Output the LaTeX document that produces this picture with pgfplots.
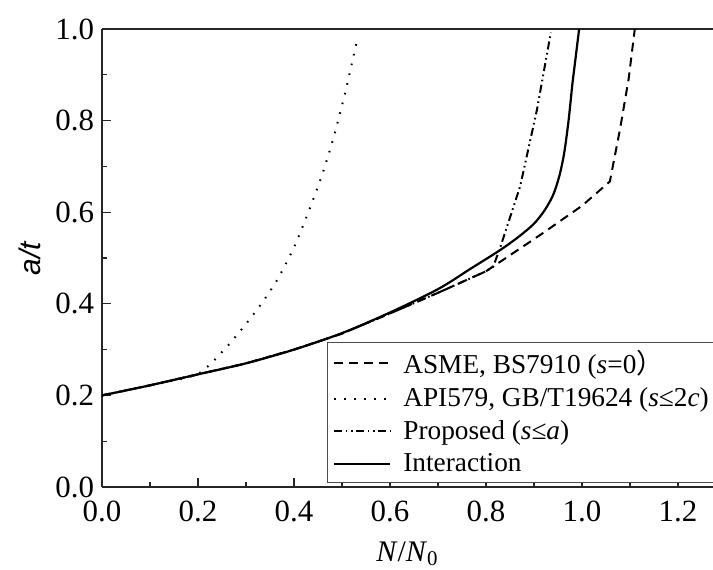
\documentclass[border=0pt]{standalone}
\usepackage{fontspec}
\setmainfont{Liberation Serif}
\setsansfont{Liberation Sans}
\newfontfamily\cjk{Noto Sans CJK SC}
\usepackage{pgfplots}
\pgfplotsset{compat=1.18}

\begin{document}
\begin{tikzpicture}
  \begin{axis}[
    width=305.5bp, height=229bp, scale only axis,
    xmin=0, xmax=1.2729, ymin=0, ymax=1,
    axis x line*=box, axis y line*=left,
    xtick pos=left, ytick pos=left,
    axis line style={line width=0.75bp, black!85},
    xtick={0,0.2,...,1.2}, ytick={0,0.2,...,1.0},
    minor tick num=1,
    tick align=inside,
    major tick length=4.5bp, minor tick length=2.5bp,
    tick style={line width=0.6bp, black!85},
    /pgf/number format/.cd, fixed, fixed zerofill, precision=1, assume math mode=true,
    /pgfplots/.cd,
    tick label style={font=\fontsize{15.5}{17}\selectfont},
    xticklabel style={yshift=-3.5bp},
    yticklabel style={xshift=-0.5bp},
    xlabel={\textit{N}/\textit{N}\textsubscript{0}},
    label style={font=\fontsize{15}{17}\selectfont},
    xlabel style={at={([yshift=-33.5bp]axis description cs:0.5,0)}, anchor=center},
    legend cell align=left,
    legend image code/.code={\draw[#1] (0bp,0bp) -- (28bp,0bp);},
    legend style={at={(axis description cs:0.3677,0.317)}, anchor=north west,
      draw=black!70, line width=0.5bp,
      font=\fontsize{13.7}{16}\selectfont,
      inner xsep=3bp, inner ysep=2bp,
      row sep=1.5bp, column sep=4bp},
  ]
    % ASME, BS7910
    \addplot[black, line width=1bp, dash pattern=on 4.5bp off 3bp] coordinates {
      (0,0.200) (0.1,0.222) (0.2,0.246) (0.3,0.270) (0.4,0.300) (0.5,0.335)
      (0.6,0.379) (0.7,0.424) (0.8,0.471) (0.9125,0.550) (1.0,0.614)
      (1.058,0.667) (1.079,0.780) (1.097,0.890) (1.110,1.0)
    };
    \addlegendentry{ASME, BS7910 (\textit{s}=0{\cjk ）}}
    % API579, GB/T19624
    \addplot[black, line width=1bp, dash pattern=on 0.8bp off 4.2bp, smooth, tension=0.4] coordinates {
      (0,0.200) (0.1,0.222) (0.2,0.247) (0.260,0.306) (0.315,0.376) (0.361,0.445)
      (0.399,0.521) (0.431,0.603) (0.459,0.683) (0.483,0.765) (0.508,0.867) (0.531,0.974)
    };
    \addlegendentry{API579, GB/T19624 (\textit{s}≤2\textit{c})}
    % Proposed
    \addplot[black, line width=1bp, dash pattern=on 4bp off 1.8bp on 0.8bp off 1.8bp on 0.8bp off 1.8bp] coordinates {
      (0,0.200) (0.1,0.222) (0.2,0.246) (0.3,0.270) (0.4,0.300) (0.5,0.335)
      (0.6,0.379) (0.7,0.424) (0.8,0.471) (0.815,0.481) (0.829,0.521)
      (0.871,0.656) (0.906,0.823) (0.935,0.992)
    };
    \addlegendentry{Proposed (\textit{s}≤\textit{a})}
    % Interaction
    \addplot[black, line width=1.1bp, smooth, tension=0.5] coordinates {
      (0,0.200) (0.1,0.222) (0.2,0.246) (0.3,0.270) (0.4,0.300) (0.5,0.336)
      (0.6,0.381) (0.7,0.432) (0.767,0.476) (0.829,0.517) (0.870,0.548) (0.900,0.575)
      (0.922,0.604) (0.940,0.638) (0.953,0.680) (0.963,0.730) (0.972,0.800)
      (0.980,0.880) (0.987,0.940) (0.994,1.0)
    };
    \addlegendentry{Interaction}
  \end{axis}
  % y axis label, set by hand so that it reads upwards
  \node[rotate=89.9, anchor=center, font=\fontsize{15}{17}\selectfont]
    at ([xshift=-36bp]current axis.west) {\textsf{\textit{a/t}}};
  \pgfresetboundingbox
  \path[use as bounding box] ([xshift=-51bp,yshift=-41.5bp]current axis.south west)
    rectangle ([yshift=14.5bp]current axis.north east);
\end{tikzpicture}
\end{document}
